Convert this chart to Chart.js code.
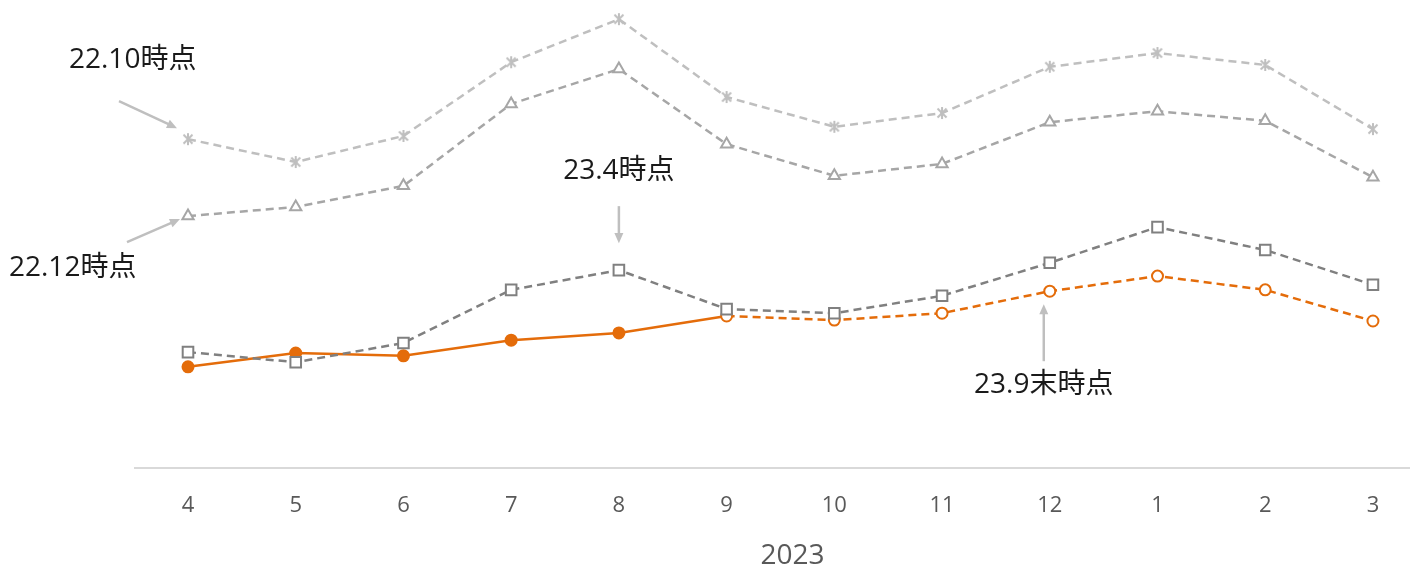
<!DOCTYPE html>
<html>
<head>
<meta charset="utf-8">
<script src="https://cdn.jsdelivr.net/npm/chart.js@4"></script>
<style>
  html, body { margin: 0; padding: 0; background: #fff; overflow: hidden; }
  canvas { display: block; }
</style>
</head>
<body>
<canvas id="forecast-chart" width="1410" height="569"></canvas>
<script>
// months of fiscal 2023
const months = ["4", "5", "6", "7", "8", "9", "10", "11", "12", "1", "2", "3"];
const yearTitle = "2023";

// forecast snapshots
const asOf2210 = [71.8, 66.8, 72.5, 88.6, 98.0, 81.0, 74.5, 77.5, 87.6, 90.6, 88.0, 74.0];
const asOf2212 = [55.0, 57.0, 61.6, 79.5, 87.1, 70.7, 63.8, 66.4, 75.5, 77.9, 75.8, 63.5];
const asOf2304 = [25.3, 23.1, 27.3, 38.9, 43.2, 34.7, 33.8, 37.6, 44.8, 52.6, 47.6, 40.0];
const asOf2309 = [22.1, 25.1, 24.5, 27.9, 29.5, 33.2, 32.3, 33.8, 38.6, 41.9, 38.9, 32.1];
const actualUntil = 5; // index of last actual month (9)

const ORANGE = "#E46C0A";
const TEXT_FONT = "'Open Sans', 'Noto Sans CJK JP', sans-serif";

const toPoints = arr => arr.map((v, i) => ({ x: i, y: v }));

// excel-like star marker: an x with a vertical stroke
function starMarker(color) {
  const c = document.createElement("canvas");
  c.width = 16; c.height = 16;
  const g = c.getContext("2d");
  g.strokeStyle = color;
  g.lineWidth = 2;
  g.beginPath();
  g.moveTo(3.5, 3.5); g.lineTo(12.5, 12.5);
  g.moveTo(12.5, 3.5); g.lineTo(3.5, 12.5);
  g.moveTo(8, 2); g.lineTo(8, 14);
  g.stroke();
  return c;
}

// callouts: text + arrow, placed relative to a data point
const callouts = [
  { ds: 0, idx: 0, text: "22.10時点", tx: -119, ty: -79, align: "left",   from: [-69, -38], to: [-11, -11] },
  { ds: 1, idx: 0, text: "22.12時点", tx: -179, ty: 52,  align: "left",   from: [-61, 26],  to: [-8, 3] },
  { ds: 2, idx: 4, text: "23.4時点",  tx: 0,    ty: -99, align: "center", from: [0, -64],   to: [0, -27] },
  { ds: 3, idx: 8, text: "23.9末時点", tx: -6,  ty: 94,  align: "center", from: [-6, 70],   to: [-6, 13] }
];

const calloutPlugin = {
  id: "callouts",
  afterDatasetsDraw(chart) {
    const ctx = chart.ctx;
    const xs = chart.scales.x, ys = chart.scales.y;
    ctx.save();
    callouts.forEach(c => {
      const v = chart.data.datasets[c.ds].data[c.idx];
      const px = xs.getPixelForValue(v.x);
      const py = ys.getPixelForValue(v.y);
      const x1 = px + c.from[0], y1 = py + c.from[1];
      const x2 = px + c.to[0], y2 = py + c.to[1];
      const ang = Math.atan2(y2 - y1, x2 - x1);
      const head = 11;
      ctx.strokeStyle = "#BFBFBF";
      ctx.fillStyle = "#BFBFBF";
      ctx.lineWidth = 2.5;
      ctx.beginPath();
      ctx.moveTo(x1, y1);
      ctx.lineTo(x2 - Math.cos(ang) * head * 0.8, y2 - Math.sin(ang) * head * 0.8);
      ctx.stroke();
      ctx.beginPath();
      ctx.moveTo(x2, y2);
      ctx.lineTo(x2 - head * Math.cos(ang - 0.42), y2 - head * Math.sin(ang - 0.42));
      ctx.lineTo(x2 - head * Math.cos(ang + 0.42), y2 - head * Math.sin(ang + 0.42));
      ctx.closePath();
      ctx.fill();

      ctx.fillStyle = "#1a1a1a";
      ctx.font = "28px " + TEXT_FONT;
      ctx.textAlign = c.align;
      ctx.textBaseline = "middle";
      ctx.fillText(c.text, px + c.tx, py + c.ty);
    });

    // year label under the month ticks, centred a bit right of the plot middle
    const area = chart.chartArea;
    ctx.fillStyle = "#595959";
    ctx.font = "28px " + TEXT_FONT;
    ctx.textAlign = "center";
    ctx.textBaseline = "middle";
    ctx.fillText(yearTitle, (area.left + area.right) / 2 + 20, chart.height - 13);
    ctx.restore();
  }
};

new Chart(document.getElementById("forecast-chart"), {
  type: "line",
  data: {
    datasets: [
      {
        label: "22.10時点",
        data: toPoints(asOf2210),
        borderColor: "#BFBFBF",
        borderWidth: 2.5,
        borderDash: [8, 5],
        pointStyle: starMarker("#BFBFBF"),
        tension: 0
      },
      {
        label: "22.12時点",
        data: toPoints(asOf2212),
        borderColor: "#A6A6A6",
        borderWidth: 2.5,
        borderDash: [8, 5],
        pointStyle: "triangle",
        pointRadius: 6.5,
        pointBackgroundColor: "#fff",
        pointBorderColor: "#A6A6A6",
        pointBorderWidth: 2,
        tension: 0
      },
      {
        label: "23.4時点",
        data: toPoints(asOf2304),
        borderColor: "#808080",
        borderWidth: 2.5,
        borderDash: [8, 5],
        pointStyle: "rect",
        pointRadius: 7.5,
        pointBackgroundColor: "#fff",
        pointBorderColor: "#808080",
        pointBorderWidth: 2,
        tension: 0
      },
      {
        label: "23.9末時点",
        data: toPoints(asOf2309),
        borderColor: ORANGE,
        borderWidth: 2.5,
        segment: {
          borderDash: s => s.p0DataIndex >= actualUntil ? [8, 5] : []
        },
        pointStyle: "circle",
        pointRadius: 5.5,
        pointBackgroundColor: asOf2309.map((v, i) => i < actualUntil ? ORANGE : "#fff"),
        pointBorderColor: ORANGE,
        pointBorderWidth: 2,
        tension: 0
      }
    ]
  },
  options: {
    responsive: false,
    animation: false,
    layout: { autoPadding: false, padding: { left: 135, right: 0, top: 10, bottom: 0 } },
    plugins: {
      legend: { display: false },
      tooltip: { enabled: false }
    },
    scales: {
      x: {
        type: "linear",
        min: -0.492,
        max: 11.344,
        afterBuildTicks: axis => {
          axis.ticks = months.map((m, i) => ({ value: i }));
        },
        afterFit: axis => {
          // axis line runs to the right edge; leave room for the year label
          axis.paddingLeft = 0;
          axis.paddingRight = 0;
          axis.height = 101;
        },
        ticks: {
          callback: (v) => months[v],
          color: "#595959",
          font: { family: TEXT_FONT, size: 22, lineHeight: 1.2 },
          padding: 25,
          maxRotation: 0,
          autoSkip: false
        },
        grid: { display: false, drawTicks: false },
        border: { display: true, color: "#D9D9D9", width: 2 }
      },
      y: {
        display: false,
        min: 0,
        max: 100
      }
    }
  },
  plugins: [calloutPlugin]
});
</script>
</body>
</html>
